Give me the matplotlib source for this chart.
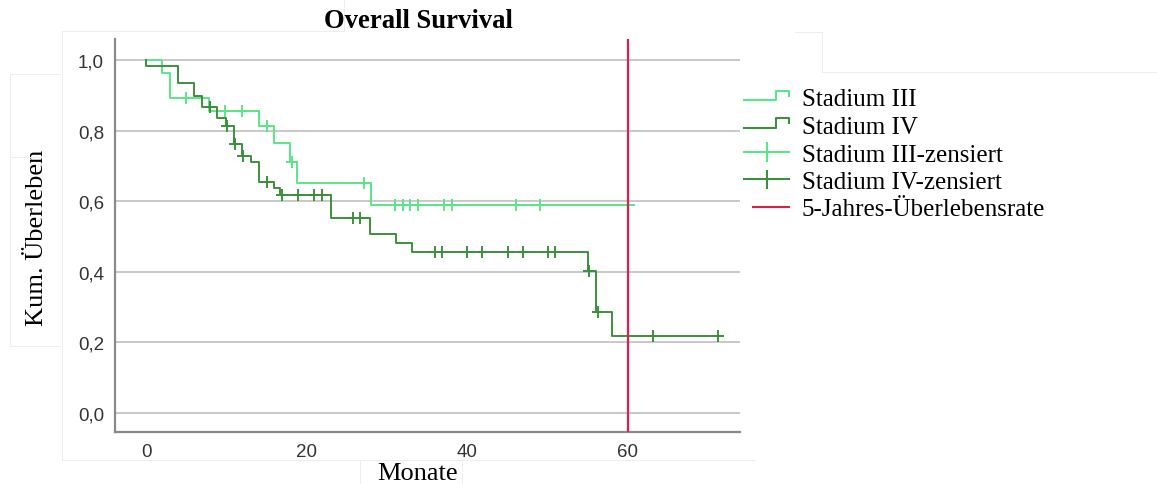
import numpy as np
import matplotlib
matplotlib.use("Agg")
import matplotlib.pyplot as plt
from matplotlib.lines import Line2D
from matplotlib.legend_handler import HandlerBase
from matplotlib.ticker import FuncFormatter

# Kaplan-Meier estimates (months, cumulative survival)
times_III = [0.0, 2.0, 2.9, 7.8, 14.1, 15.9, 17.9, 18.8, 28.0]
surv_III = [1.0, 0.965, 0.894, 0.856, 0.814, 0.764, 0.710, 0.653, 0.589]
end_III = 60.8
censor_III = [4.9, 9.8, 11.9, 15.0, 18.2, 27.1, 31.0, 32.0, 32.9, 33.9,
              37.1, 38.1, 46.1, 49.1]

times_IV = [0.0, 0.0, 3.9, 6.0, 7.0, 8.8, 9.9, 10.9, 11.9, 13.0, 14.1,
            15.9, 16.7, 23.0, 27.9, 31.1, 33.1, 55.1, 56.1, 58.1]
surv_IV = [1.0, 0.984, 0.935, 0.899, 0.868, 0.836, 0.814, 0.762, 0.729,
           0.710, 0.655, 0.639, 0.618, 0.552, 0.507, 0.482, 0.455, 0.401,
           0.287, 0.219]
end_IV = 71.8
censor_IV = [8.0, 10.0, 11.0, 12.1, 15.0, 16.9, 18.9, 20.9, 21.9, 25.8,
             26.6, 36.0, 36.9, 40.0, 41.9, 45.1, 47.0, 50.1, 50.9, 55.2,
             56.3, 63.2, 71.3]

five_year = 60
x_ticks = [0, 20, 40, 60]
y_ticks = [0.0, 0.2, 0.4, 0.6, 0.8, 1.0]

title = "Overall Survival"
xlabel = "Monate"
ylabel = "Kum. Überleben"
labels = ["Stadium III", "Stadium IV", "Stadium III-zensiert",
          "Stadium IV-zensiert", "5-Jahres-Überlebensrate"]

c_III = "#5ae688"
c_IV = "#3c8f3c"
c_red = "#dc1f4b"
serif = ["Liberation Serif", "DejaVu Serif"]
sans = ["Liberation Sans", "DejaVu Sans"]


def surv_at(t, times, surv):
    idx = np.searchsorted(times, t, side="right") - 1
    return np.asarray(surv)[idx]


fig = plt.figure(figsize=(11.57, 4.85), dpi=100)


def px_line(x0, y0, x1, y1):
    # thin pale frame lines of the exported panel, in pixel units
    fig.add_artist(Line2D([x0 / 1157, x1 / 1157], [1 - y0 / 485, 1 - y1 / 485],
                          transform=fig.transFigure, color="#ededed", lw=0.7))


px_line(62, 32, 62, 461)
px_line(62, 32, 344, 32)
px_line(344, 0, 344, 32)
px_line(62, 461, 755, 461)
px_line(795, 33, 822, 33)
px_line(822, 33, 822, 73)
px_line(822, 73, 1157, 73)
px_line(10, 75, 60, 75)
px_line(10, 75, 10, 347)
px_line(10, 347, 60, 347)
px_line(10, 158, 40, 158)
px_line(360, 461, 360, 485)
px_line(462, 461, 462, 485)

ax = fig.add_axes([115 / 1157, 1 - 433 / 485, 625 / 1157, 393 / 485])
ax.patch.set_alpha(0)

for y in y_ticks:
    ax.axhline(y, color="#c4c4c4", lw=1.3, zorder=0)

for times, surv, end, cens, col in [
    (times_III, surv_III, end_III, censor_III, c_III),
    (times_IV, surv_IV, end_IV, censor_IV, c_IV),
]:
    tx = list(times) + [end]
    sy = list(surv) + [surv[-1]]
    ax.step(tx, sy, where="post", color=col, lw=1.4, zorder=3)
    cy = surv_at(np.array(cens), times, surv)
    ax.plot(cens, cy, linestyle="none", marker="+", ms=9, mew=1.4,
            color=col, zorder=4)

ax.axvline(five_year, color=c_red, lw=1.6, zorder=5)

ax.set_xlim(-3.9, 74)
ax.set_ylim(-0.054, 1.06)
ax.set_xticks(x_ticks)
ax.set_yticks(y_ticks)
ax.yaxis.set_major_formatter(FuncFormatter(lambda v, p: f"{v:.1f}".replace(".", ",")))
ax.tick_params(length=0, labelsize=13.5, colors="#333333", pad=8)
for lab in ax.get_xticklabels() + ax.get_yticklabels():
    lab.set_fontfamily(sans)

for s in ["top", "right"]:
    ax.spines[s].set_visible(False)
for s in ["left", "bottom"]:
    ax.spines[s].set_color("#8a8a8a")
    ax.spines[s].set_linewidth(1.6)

ax.set_xlabel(xlabel, fontsize=19, family=serif)
ax.xaxis.set_label_coords((418 - 115) / 625, (433 - 474) / 393)
ax.xaxis.label.set_va("center")
ax.set_ylabel(ylabel, fontsize=19, family=serif)
ax.yaxis.set_label_coords((37 - 115) / 625, (433 - 238) / 393)
ax.yaxis.label.set_va("center")

fig.text(418 / 1157, 1 - 21 / 485, title, ha="center", va="center",
         fontsize=19.2, fontweight="bold", family=serif)


class StepHandler(HandlerBase):
    def create_artists(self, legend, orig_handle, xdescent, ydescent,
                       width, height, fontsize, trans):
        fx = np.array([0.0, 0.72, 0.72, 1.0, 1.0])
        fy = np.array([0.3, 0.3, 0.85, 0.85, 0.55])
        ln = Line2D(fx * width - xdescent, fy * height - ydescent,
                    color=orig_handle.get_color(),
                    lw=orig_handle.get_linewidth())
        ln.set_transform(trans)
        return [ln]


class CensorHandler(HandlerBase):
    def create_artists(self, legend, orig_handle, xdescent, ydescent,
                       width, height, fontsize, trans):
        col = orig_handle.get_color()
        lw = orig_handle.get_linewidth()
        yc = 0.5 * height - ydescent
        h = Line2D([-xdescent, width - xdescent], [yc, yc], color=col, lw=lw)
        v = Line2D([0.5 * width - xdescent] * 2,
                   [yc - 0.5 * height, yc + 0.5 * height], color=col, lw=lw)
        h.set_transform(trans)
        v.set_transform(trans)
        return [h, v]


class RedHandler(HandlerBase):
    def create_artists(self, legend, orig_handle, xdescent, ydescent,
                       width, height, fontsize, trans):
        yc = 0.5 * height - ydescent
        ln = Line2D([0.2 * width - xdescent, width - xdescent], [yc, yc],
                    color=orig_handle.get_color(),
                    lw=orig_handle.get_linewidth())
        ln.set_transform(trans)
        return [ln]


h_III = Line2D([], [], color=c_III, lw=1.5)
h_IV = Line2D([], [], color=c_IV, lw=1.5)
h_cIII = Line2D([], [], color=c_III, lw=1.5)
h_cIV = Line2D([], [], color=c_IV, lw=1.5)
h_red = Line2D([], [], color=c_red, lw=1.5)

leg = fig.legend(
    [h_III, h_IV, h_cIII, h_cIV, h_red], labels,
    handler_map={h_III: StepHandler(), h_IV: StepHandler(),
                 h_cIII: CensorHandler(), h_cIV: CensorHandler(),
                 h_red: RedHandler()},
    loc="upper left", bbox_to_anchor=(744 / 1157, 1 - 89 / 485),
    frameon=False, borderpad=0, borderaxespad=0, handlelength=1.8,
    handletextpad=0.5, labelspacing=0.2,
    prop={"family": serif, "size": 18},
)

fig.savefig("out.png", dpi=100, facecolor="white")
